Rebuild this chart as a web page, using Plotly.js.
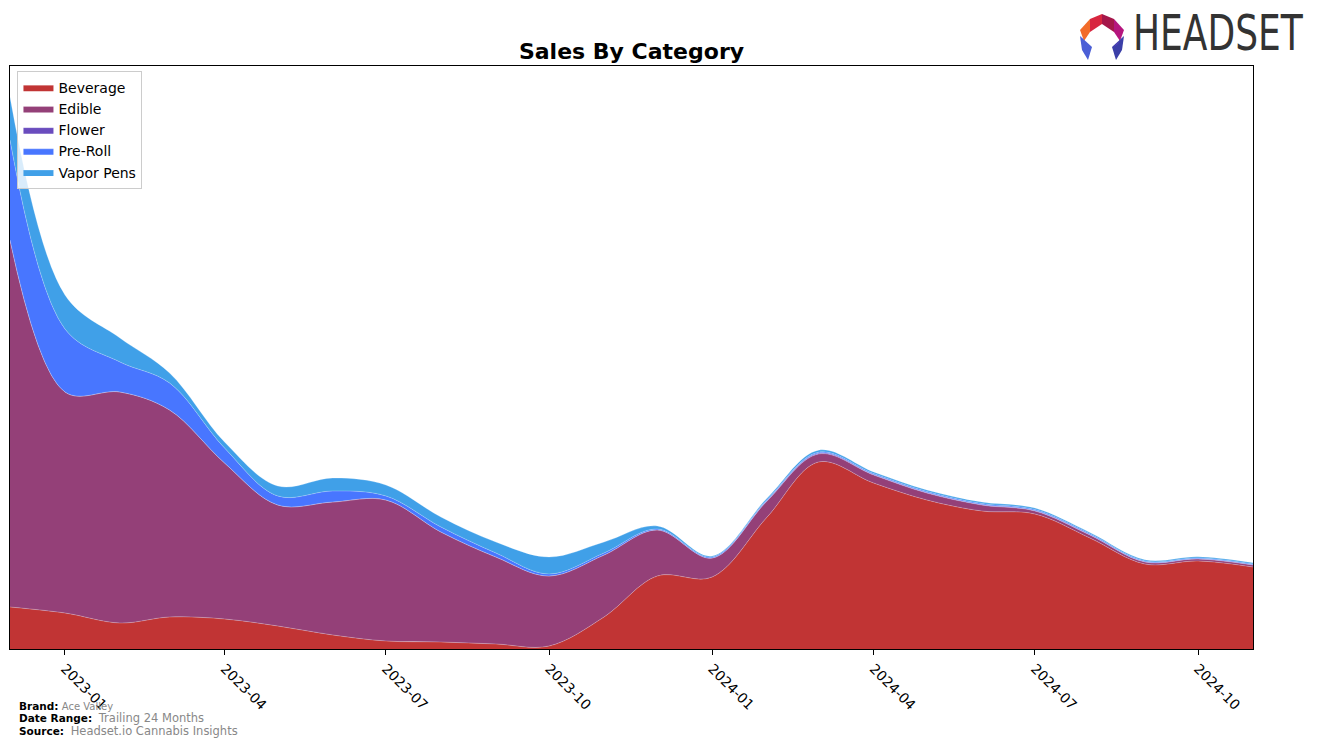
<!DOCTYPE html>
<html>
<head>
<meta charset="utf-8">
<script src="https://cdn.plot.ly/plotly-3.0.1.min.js"></script>
<style>
html,body{margin:0;padding:0;background:#fff;}
#wrap{position:relative;width:1317px;height:746px;overflow:hidden;}
#chart{position:absolute;left:0;top:0;width:1317px;height:746px;}
#logoicon{position:absolute;left:1076px;top:10px;width:54px;height:55px;}
#logotext{position:absolute;left:1133px;top:10px;width:180px;height:52px;line-height:52px;
  font-family:'DejaVu Sans Condensed','DejaVu Sans',sans-serif;font-size:40px;color:#333;
  white-space:nowrap;transform:scaleY(1.25);transform-origin:0 40px;}
</style>
</head>
<body>
<div id="wrap">
<div id="chart"></div>
<svg id="logoicon" width="54" height="55" viewBox="0 0 54 55">
  <polygon points="4,20 14,9 14,22 8,31" fill="#f26b2a"/>
  <polygon points="14,9 26,4 26,14 14,22" fill="#d8263f"/>
  <polygon points="26,4 38,9 38,22 26,14" fill="#a5174a"/>
  <polygon points="38,9 48,20 44,31 38,22" fill="#b5157e"/>
  <polygon points="4,24 8,31 16,38 10,34" fill="#6b4fd0"/>
  <polygon points="4,26 16,37 12,50 6,40" fill="#4b5fd6"/>
  <polygon points="48,26 36,37 40,50 46,40" fill="#3b3fa8"/>
  <polygon points="48,24 44,31 36,38 42,34" fill="#5a3fbf"/>
</svg>
<div id="logotext">HEADSET</div>
</div>
<script>
// Monthly data (arbitrary units)
const months = ["2022-12-01","2023-01-01","2023-02-01","2023-03-01","2023-04-01","2023-05-01","2023-06-01","2023-07-01","2023-08-01","2023-09-01","2023-10-01","2023-11-01","2023-12-01","2024-01-01","2024-02-01","2024-03-01","2024-04-01","2024-05-01","2024-06-01","2024-07-01","2024-08-01","2024-09-01","2024-10-01","2024-11-01"];
const beverage = [42,36,26,32,30,23,14,8,7,5,3,32,73,72,132,187,166,149,138,135,111,85,88,82];
const edible   = [367,221,231,207,156,121,133,141,110,87,70,62,46,19,16,8,8,7,6,3,3,2,2,2];
const flower   = [0,0,0,0,0,0,0,0,0,0,0,0,0,0,0.5,0.8,0.5,0.5,0.4,0.4,0.3,0.3,0.3,0.3];
const preRoll  = [100,63,30,27,15,9,11,4,5,4,2,2,1,1,1,1,1,1,1,1,1,0.8,0.8,0.8];
const vaporPens= [43,34,24,10,6,10,13,11,10,11,17,11,3,1,1.5,2,1.5,1.5,1.5,1.5,1.2,1.2,1.2,1.2];
const tickVals = ["2023-01-01","2023-04-01","2023-07-01","2023-10-01","2024-01-01","2024-04-01","2024-07-01","2024-10-01"];
const tickText = ["2023-01","2023-04","2023-07","2023-10","2024-01","2024-04","2024-07","2024-10"];

const seriesNames = ["Beverage","Edible","Flower","Pre-Roll","Vapor Pens"];
const seriesVals = [beverage, edible, flower, preRoll, vaporPens];
const colors = ["#c13434","#944078","#6a4cbe","#4876ff","#40a0e8"];

const traces = seriesNames.map((n,i)=>({
  type:"scatter", mode:"lines", name:n, x:months, y:seriesVals[i],
  stackgroup:"one", fillcolor:colors[i],
  line:{shape:"spline", smoothing:1, width:0.8, color:"rgba(255,255,255,0.3)"},
  hoverinfo:"x+y+name"
}));

const layout = {
  width:1317, height:746,
  margin:{l:10, r:64, t:66, b:97},
  paper_bgcolor:"#fff", plot_bgcolor:"#fff",
  font:{family:"'DejaVu Sans', sans-serif", size:12, color:"#000"},
  title:{text:"<b>Sales By Category</b>", x:0.4795, xanchor:"center", y:0.931, yanchor:"middle", font:{size:22, family:"'DejaVu Sans', sans-serif", color:"#000"}},
  showlegend:true,
  legend:{x:0.006, y:0.992, xanchor:"left", yanchor:"top", traceorder:"normal",
          bgcolor:"rgba(255,255,255,0.8)", bordercolor:"#cccccc", borderwidth:1,
          font:{size:14, family:"'DejaVu Sans', sans-serif"}, itemwidth:30, tracegroupgap:0},
  xaxis:{type:"date", range:["2022-12-01","2024-11-01"], tickvals:tickVals, ticktext:tickText,
         tickangle:45, ticks:"outside", ticklen:5, tickcolor:"#000", tickwidth:1,
         showline:true, linecolor:"#000", linewidth:1, mirror:true, showgrid:false, zeroline:false,
         tickfont:{size:13.9, color:"#000"}},
  yaxis:{range:[0,583], showticklabels:false, ticks:"", showline:true, linecolor:"#000", linewidth:1,
         mirror:true, showgrid:false, zeroline:false},
  annotations:[
    {xref:"paper", yref:"paper", x:0.0056, y:-0.0978, xanchor:"left", yanchor:"middle", showarrow:false, align:"left",
     text:"<b>Brand:</b> <span style='color:#888;font-size:10px'>Ace Valley</span>", font:{size:10.5, color:"#000"}},
    {xref:"paper", yref:"paper", x:0.0056, y:-0.1184, xanchor:"left", yanchor:"middle", showarrow:false, align:"left",
     text:"<b>Date Range:</b>  <span style='color:#888;font-size:11.5px'>Trailing 24 Months</span>", font:{size:10.5, color:"#000"}},
    {xref:"paper", yref:"paper", x:0.0056, y:-0.1407, xanchor:"left", yanchor:"middle", showarrow:false, align:"left",
     text:"<b>Source:</b>  <span style='color:#888;font-size:11.5px'>Headset.io Cannabis Insights</span>", font:{size:10.5, color:"#000"}}
  ]
};
Plotly.newPlot("chart", traces, layout, {displayModeBar:false, staticPlot:true});
</script>
</body>
</html>
